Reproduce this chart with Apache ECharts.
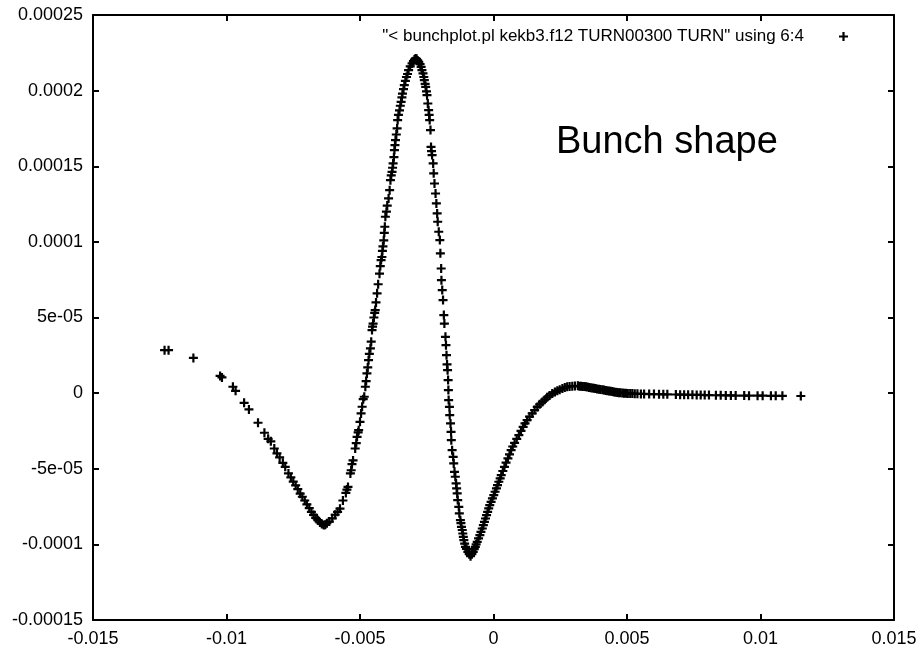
<!DOCTYPE html>
<html>
<head>
<meta charset="utf-8">
<title>Bunch shape</title>
<script src="https://cdn.jsdelivr.net/npm/echarts@6/dist/echarts.min.js"></script>
<style>
  html, body { margin: 0; padding: 0; background: #fff; }
  #chart { width: 921px; height: 655px; }
</style>
</head>
<body>
<div id="chart"></div>
<script>
const seriesName = '"< bunchplot.pl kekb3.f12 TURN00300 TURN" using 6:4'

const xTicks = [-0.015, -0.01, -0.005, 0, 0.005, 0.01, 0.015]
const xTickLabels = ['-0.015', '-0.01', '-0.005', '0', '0.005', '0.01', '0.015']
const yTicks = [-0.00015, -0.0001, -0.00005, 0, 0.00005, 0.0001, 0.00015, 0.0002, 0.00025]
const yTickLabels = ['-0.00015', '-0.0001', '-5e-05', '0', '5e-05', '0.0001', '0.00015', '0.0002', '0.00025']

// [x, y], left to right along the curve
const bunchPoints = [
  // sparse left tail, first trough
  [-0.01232, 2.84e-5], [-0.01217, 2.84e-5], [-0.01124, 2.33e-5], [-0.01024, 1.14e-5], [-0.01017, 1.04e-5],
  [-0.00976, 4.2e-6], [-0.00966, 1.5e-6], [-0.00934, -6.4e-6], [-0.00916, -1.08e-5], [-0.00882, -1.96e-5],
  [-0.00858, -2.62e-5], [-0.00844, -3.02e-5], [-0.00834, -3.19e-5], [-0.00821, -3.66e-5], [-0.00811, -3.99e-5],
  [-0.00801, -4.25e-5], [-0.00789, -4.61e-5], [-0.0078, -4.87e-5], [-0.00768, -5.31e-5], [-0.00759, -5.57e-5],
  [-0.0075, -5.85e-5], [-0.00741, -6.1e-5], [-0.00733, -6.35e-5], [-0.00724, -6.65e-5], [-0.00716, -6.85e-5],
  [-0.00707, -7.1e-5], [-0.00699, -7.35e-5], [-0.0069, -7.6e-5], [-0.00682, -7.85e-5], [-0.00674, -8.05e-5],
  [-0.00666, -8.25e-5], [-0.00658, -8.4e-5], [-0.0065, -8.55e-5], [-0.00643, -8.65e-5], [-0.00636, -8.72e-5],
  [-0.0063, -8.7e-5],
  // rise to the main peak
  [-0.00624, -8.6e-5], [-0.00615, -8.49e-5], [-0.00604, -8.28e-5], [-0.00593, -8.04e-5], [-0.00584, -7.85e-5],
  [-0.00575, -7.64e-5], [-0.00564, -7.1e-5], [-0.00553, -6.6e-5], [-0.00549, -6.38e-5], [-0.00545, -6.2e-5],
  [-0.00536, -5.31e-5], [-0.00533, -5.1e-5], [-0.0053, -4.7e-5], [-0.00526, -4.45e-5], [-0.00518, -3.66e-5],
  [-0.00514, -3.3e-5], [-0.00511, -2.89e-5], [-0.00507, -2.6e-5], [-0.00505, -2.45e-5], [-0.005, -1.9e-5],
  [-0.00496, -1.34e-5], [-0.00492, -9e-6], [-0.00488, -4e-6], [-0.00484, -2.4e-6], [-0.0048, 4.2e-6],
  [-0.00477, 8e-6], [-0.00474, 1.3e-5], [-0.00471, 1.7e-5], [-0.00468, 2.18e-5], [-0.00465, 2.6e-5],
  [-0.00461, 2.96e-5], [-0.00458, 3.4e-5], [-0.00455, 4.17e-5], [-0.00453, 4.4e-5], [-0.00451, 4.6e-5],
  [-0.00448, 5.0e-5], [-0.00445, 5.3e-5], [-0.00443, 5.49e-5], [-0.0044, 6.0e-5], [-0.00436, 6.6e-5],
  [-0.00432, 7.2e-5], [-0.00427, 7.9e-5], [-0.00424, 8.4e-5], [-0.00421, 8.8e-5], [-0.00418, 9.0e-5],
  [-0.00416, 9.4e-5], [-0.00414, 9.7e-5], [-0.00411, 1.01e-4], [-0.00409, 1.06e-4], [-0.00407, 1.1e-4],
  [-0.00405, 1.166e-4], [-0.00401, 1.2e-4], [-0.00398, 1.24e-4], [-0.00393, 1.287e-4], [-0.00389, 1.342e-4],
  [-0.00386, 1.408e-4], [-0.00383, 1.44e-4], [-0.0038, 1.463e-4], [-0.00378, 1.49e-4], [-0.00376, 1.519e-4],
  [-0.00373, 1.56e-4], [-0.00371, 1.607e-4], [-0.00369, 1.64e-4], [-0.00367, 1.673e-4], [-0.00364, 1.71e-4],
  [-0.00361, 1.75e-4], [-0.00359, 1.805e-4], [-0.00356, 1.84e-4], [-0.00352, 1.87e-4], [-0.00349, 1.9e-4],
  [-0.00346, 1.926e-4], [-0.00343, 1.955e-4], [-0.00341, 1.98e-4], [-0.00337, 2.01e-4], [-0.00334, 2.036e-4],
  [-0.0033, 2.065e-4], [-0.00326, 2.09e-4], [-0.00322, 2.11e-4], [-0.00318, 2.136e-4], [-0.00312, 2.16e-4],
  [-0.00305, 2.18e-4], [-0.003, 2.195e-4], [-0.00296, 2.205e-4], [-0.00292, 2.213e-4],
  // fall from the peak into the second trough
  [-0.00288, 2.21e-4], [-0.00284, 2.2e-4], [-0.0028, 2.19e-4], [-0.00275, 2.175e-4], [-0.00271, 2.157e-4],
  [-0.00268, 2.135e-4], [-0.00264, 2.114e-4], [-0.00261, 2.09e-4], [-0.00259, 2.07e-4], [-0.00256, 2.045e-4],
  [-0.00254, 2.025e-4], [-0.00251, 1.995e-4], [-0.00249, 1.97e-4], [-0.00246, 1.915e-4], [-0.00243, 1.871e-4],
  [-0.00241, 1.84e-4], [-0.00239, 1.805e-4], [-0.00236, 1.739e-4], [-0.00234, 1.628e-4], [-0.00232, 1.6e-4],
  [-0.0023, 1.574e-4], [-0.00226, 1.519e-4], [-0.00224, 1.453e-4], [-0.00221, 1.386e-4], [-0.00217, 1.32e-4],
  [-0.00214, 1.254e-4], [-0.00211, 1.188e-4], [-0.00209, 1.133e-4], [-0.00205, 1.067e-4], [-0.00201, 1.012e-4],
  [-0.00199, 9.24e-5], [-0.00196, 8.24e-5], [-0.00195, 7.47e-5], [-0.00192, 6.81e-5], [-0.00189, 6.15e-5],
  [-0.00186, 5.16e-5], [-0.00184, 4.6e-5], [-0.0018, 3.72e-5], [-0.00178, 3.17e-5], [-0.00176, 2.51e-5],
  [-0.00174, 1.9e-5], [-0.00172, 1.52e-5], [-0.0017, 8.6e-6], [-0.00169, 2e-6], [-0.00168, -4.6e-6],
  [-0.00165, -9.1e-6], [-0.00164, -1.45e-5], [-0.00161, -2e-5], [-0.00159, -2.56e-5], [-0.00158, -3.11e-5],
  [-0.00155, -3.77e-5], [-0.00151, -4.21e-5], [-0.00149, -4.65e-5], [-0.00146, -5.2e-5], [-0.00143, -5.53e-5],
  [-0.0014, -5.97e-5], [-0.00138, -6.3e-5], [-0.00136, -6.63e-5], [-0.00134, -7.07e-5], [-0.0013, -7.52e-5],
  [-0.00128, -7.95e-5], [-0.00124, -8.4e-5], [-0.00122, -8.6e-5], [-0.0012, -8.84e-5], [-0.00117, -9.05e-5],
  [-0.00115, -9.28e-5], [-0.00113, -9.5e-5], [-0.00111, -9.72e-5], [-0.00108, -9.95e-5], [-0.00105, -1.016e-4],
  [-0.00101, -1.03e-4], [-0.00096, -1.049e-4], [-0.00091, -1.065e-4], [-0.00086, -1.078e-4],
  // climb out of the trough to the small bump
  [-0.00081, -1.065e-4], [-0.00076, -1.049e-4], [-0.00072, -1.032e-4], [-0.00068, -1.016e-4], [-0.00065, -1.0e-4],
  [-0.00061, -9.83e-5], [-0.00056, -9.6e-5], [-0.00051, -9.39e-5], [-0.00047, -9.17e-5], [-0.00042, -8.95e-5],
  [-0.00038, -8.73e-5], [-0.00034, -8.51e-5], [-0.0003, -8.29e-5], [-0.00026, -8.07e-5], [-0.00022, -7.85e-5],
  [-0.00018, -7.62e-5], [-0.00014, -7.4e-5], [-0.00009, -7.19e-5], [-0.00004, -6.96e-5], [0.00001, -6.74e-5],
  [0.00006, -6.52e-5], [0.00011, -6.3e-5], [0.00015, -6.08e-5], [0.0002, -5.86e-5], [0.00025, -5.64e-5],
  [0.00029, -5.42e-5], [0.00035, -5.15e-5], [0.00041, -4.87e-5], [0.00047, -4.6e-5], [0.00054, -4.32e-5],
  [0.0006, -4.05e-5], [0.00066, -3.77e-5], [0.00072, -3.53e-5], [0.00079, -3.29e-5], [0.00087, -3.03e-5],
  [0.00095, -2.78e-5], [0.00103, -2.5e-5], [0.00111, -2.23e-5], [0.00118, -2.0e-5], [0.00126, -1.79e-5],
  [0.00135, -1.56e-5], [0.00145, -1.34e-5], [0.00154, -1.12e-5], [0.00164, -9.1e-6], [0.00173, -7.4e-6],
  [0.00183, -5.8e-6], [0.00192, -4.3e-6], [0.00201, -2.8e-6], [0.0021, -1.5e-6], [0.0022, -2e-7],
  [0.0023, 7e-7], [0.00239, 1.5e-6], [0.00248, 2.3e-6], [0.00258, 3.1e-6], [0.00267, 3.7e-6],
  [0.00276, 4.2e-6], [0.00285, 4.4e-6], [0.00295, 4.6e-6], [0.00305, 4.7e-6],
  // flat tail
  [0.00316, 4.8e-6], [0.00322, 4.6e-6], [0.00328, 4.5e-6], [0.00334, 4.4e-6], [0.0034, 4.3e-6],
  [0.00346, 4.2e-6], [0.00352, 4.0e-6], [0.00358, 3.8e-6], [0.00364, 3.6e-6], [0.0037, 3.4e-6],
  [0.00376, 3.2e-6], [0.00382, 3.0e-6], [0.00388, 2.8e-6], [0.00395, 2.6e-6], [0.00401, 2.4e-6],
  [0.00408, 2.2e-6], [0.00414, 2.0e-6], [0.0042, 1.8e-6], [0.00426, 1.6e-6], [0.00433, 1.4e-6],
  [0.00439, 1.2e-6], [0.00445, 1.0e-6], [0.00451, 8e-7], [0.00458, 6e-7], [0.00464, 4e-7],
  [0.0047, 3e-7], [0.00476, 2e-7], [0.00483, 1e-7], [0.00489, 0], [0.00496, -1e-7],
  [0.00503, -2e-7], [0.00512, -3e-7], [0.0052, -3e-7], [0.00529, -4e-7], [0.00539, -4e-7],
  [0.00552, -5e-7], [0.00564, -5e-7], [0.00583, -6e-7], [0.00601, -6e-7], [0.0062, -7e-7],
  [0.00636, -8e-7], [0.00651, -8e-7], [0.00683, -9e-7], [0.00699, -1.0e-6], [0.00714, -1.0e-6],
  [0.00729, -1.1e-6], [0.00745, -1.1e-6], [0.00761, -1.2e-6], [0.00776, -1.2e-6], [0.00791, -1.3e-6],
  [0.00807, -1.3e-6], [0.00833, -1.4e-6], [0.00851, -1.4e-6], [0.0087, -1.5e-6], [0.00889, -1.5e-6],
  [0.00907, -1.6e-6], [0.00939, -1.6e-6], [0.00957, -1.7e-6], [0.00989, -1.7e-6], [0.01008, -1.7e-6],
  [0.01039, -1.8e-6], [0.01057, -1.8e-6], [0.01082, -1.8e-6], [0.01151, -1.9e-6]
]

// gnuplot style "+" point, a bit heavy like the scanned print
const plusSymbol = 'path://M3.4,0H5.6V3.4H9V5.6H5.6V9H3.4V5.6H0V3.4H3.4Z'
const fontFamily = '"Liberation Sans", Arial, Helvetica, sans-serif'

function tickLabel(ticks, labels) {
  return (v) => {
    const i = ticks.findIndex(t => Math.abs(t - v) < 1e-9)
    return i >= 0 ? labels[i] : ''
  }
}

const axisLine = { show: true, onZero: false, lineStyle: { color: '#000', width: 2 } }
const axisTick = { show: true, inside: true, length: 6, lineStyle: { color: '#000', width: 2 } }

const chart = echarts.init(document.getElementById('chart'), null, { renderer: 'canvas' })
chart.setOption({
  animation: false,
  backgroundColor: '#fff',
  grid: { left: 93, right: 27, top: 15, bottom: 35 },
  legend: {
    right: 68,
    top: 23,
    align: 'right',
    icon: plusSymbol,
    itemWidth: 9,
    itemHeight: 9,
    textStyle: { color: '#000', fontSize: 17, fontFamily, padding: [0, 30, 0, 0] },
    data: [seriesName]
  },
  xAxis: [
    {
      type: 'value', min: -0.015, max: 0.015, interval: 0.005,
      axisLine, axisTick, splitLine: { show: false },
      axisLabel: { color: '#000', fontSize: 18, fontFamily, margin: 10, formatter: tickLabel(xTicks, xTickLabels) }
    },
    {
      type: 'value', position: 'top', min: -0.015, max: 0.015, interval: 0.005,
      axisLine, axisTick, splitLine: { show: false }, axisLabel: { show: false }
    }
  ],
  yAxis: [
    {
      type: 'value', min: -0.00015, max: 0.00025, interval: 0.00005,
      axisLine, axisTick, splitLine: { show: false },
      axisLabel: { color: '#000', fontSize: 18, fontFamily, margin: 10, formatter: tickLabel(yTicks, yTickLabels) }
    },
    {
      type: 'value', position: 'right', min: -0.00015, max: 0.00025, interval: 0.00005,
      axisLine, axisTick, splitLine: { show: false }, axisLabel: { show: false }
    }
  ],
  graphic: [{
    type: 'text',
    left: 556,
    top: 124,
    style: { text: 'Bunch shape', fill: '#000', font: '38px ' + fontFamily }
  }],
  series: [{
    name: seriesName,
    type: 'scatter',
    symbol: plusSymbol,
    symbolSize: 9,
    itemStyle: { color: '#000', opacity: 1 },
    data: bunchPoints
  }]
})
</script>
</body>
</html>
